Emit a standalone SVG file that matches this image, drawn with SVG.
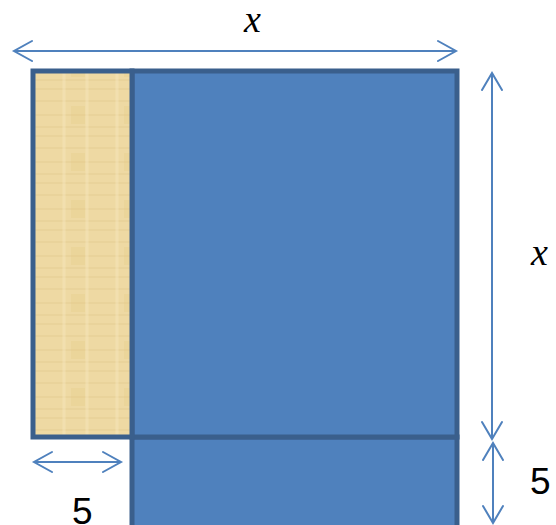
<svg xmlns="http://www.w3.org/2000/svg" width="556" height="525" viewBox="0 0 556 525">
<style>
.dim{stroke:#4f81bd;stroke-width:2;fill:none}
.head{stroke:#4f81bd;stroke-width:2;fill:none;stroke-linecap:round;stroke-linejoin:miter}
.box{stroke:#3a5f8c;stroke-width:5}
.var{font-family:"Liberation Serif",serif;font-style:italic;font-size:38px;fill:#000}
.num{font-family:"Liberation Sans",sans-serif;font-size:37px;fill:#000}
</style>
<defs>
<pattern id="paper" width="53" height="47" patternUnits="userSpaceOnUse">
<rect width="53" height="47" fill="#eed9a3"/>
<path d="M0 7H53M0 21H53M0 33H53M0 42H53" stroke="#dcc282" stroke-width="1.5" opacity="0.35"/>
<path d="M11 0V47M34 0V47" stroke="#f6e6bc" stroke-width="3" opacity="0.5"/>
<rect x="18" y="12" width="14" height="18" fill="#e3c77f" opacity="0.25"/>
</pattern>
</defs>
<g id="shapes">
<g id="lower-rect"><rect class="box" x="132" y="437" width="325" height="100" fill="#4f81bd"/></g>
<g id="big-square"><rect class="box" x="132" y="71" width="325" height="366" fill="#4f81bd"/></g>
<g id="strip"><rect class="box" x="33" y="71" width="99" height="366" fill="url(#paper)"/></g>
</g>
<g id="connectors">
<line class="dim" x1="14" y1="51" x2="456" y2="51"/>
<path class="head" d="M32 41L14 51L32 61M438 41L456 51L438 61"/>
<line class="dim" x1="492" y1="73" x2="492" y2="439"/>
<path class="head" d="M482 90L492 73L502 90M482 422L492 439L502 422"/>
<line class="dim" x1="493" y1="443" x2="493" y2="523"/>
<path class="head" d="M483 460L493 443L503 460M483 506L493 523L503 506"/>
<line class="dim" x1="34" y1="462" x2="121" y2="462"/>
<path class="head" d="M52 452L34 462L52 472M103 452L121 462L103 472"/>
</g>
<g id="labels">
<text class="var" x="244" y="32">x</text>
<text class="var" x="531" y="265">x</text>
<text class="num" x="72" y="524">5</text>
<text class="num" x="530" y="494">5</text>
</g>
</svg>
